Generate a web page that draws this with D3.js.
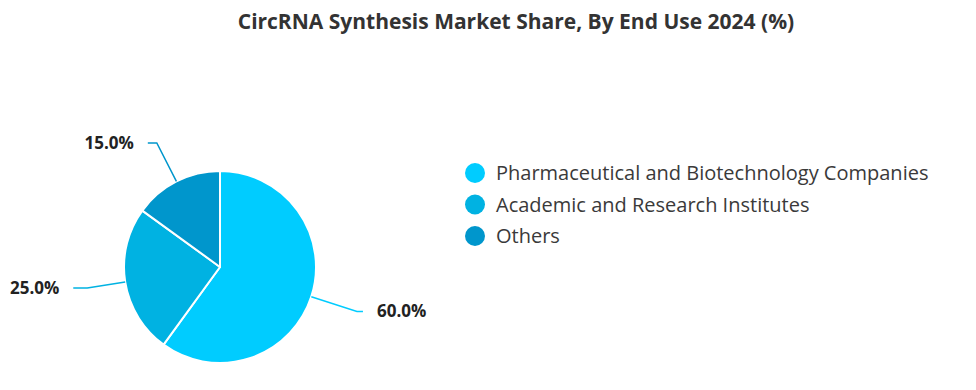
<!DOCTYPE html>
<html>
<head>
<meta charset="utf-8">
<script src="https://cdn.jsdelivr.net/npm/d3@7"></script>
<style>
  html, body { margin: 0; padding: 0; background: #ffffff; }
  svg { display: block; }
</style>
</head>
<body>
<svg id="chart" width="976" height="390"></svg>
<script>
const title = "CircRNA Synthesis Market Share, By End Use 2024 (%)";
const categories = ["Pharmaceutical and Biotechnology Companies", "Academic and Research Institutes", "Others"];
const values = [60.0, 25.0, 15.0];
const colors = ["#00CCFF", "#00B2E2", "#0096CC"];

const W = 976, H = 390;
const cx = 220, cy = 267, R = 96;
// leader line layout: elbow radius factor and horizontal run per slice
const elbow = [1.5, 1.4, 1.45];
const run = [6, 14, 9];

const svg = d3.select("#chart");
const font = "'Open Sans', 'Noto Sans', sans-serif";

svg.append("text")
  .attr("x", 516).attr("y", 29)
  .attr("text-anchor", "middle")
  .attr("font-family", font)
  .attr("font-weight", 700)
  .attr("font-size", 21)
  .attr("fill", "#333333")
  .text(title);

const data = categories.map((c, i) => ({ name: c, value: values[i], color: colors[i], i }));
const pie = d3.pie().value(d => d.value).sort(null);
const arcs = pie(data);
const arc = d3.arc().innerRadius(0).outerRadius(R);

const g = svg.append("g").attr("transform", `translate(${cx},${cy})`);
g.selectAll("path.slice").data(arcs).enter().append("path")
  .attr("class", "slice")
  .attr("d", arc)
  .attr("fill", d => d.data.color)
  .attr("stroke", "#ffffff")
  .attr("stroke-width", 2)
  .attr("stroke-linejoin", "round");

const fmt = d3.format(".1f");
arcs.forEach(d => {
  const a = (d.startAngle + d.endAngle) / 2;
  const sx = Math.sin(a), sy = -Math.cos(a);
  const p0 = [sx * R, sy * R];
  const p1 = [sx * R * elbow[d.index], sy * R * elbow[d.index]];
  const dir = sx >= 0 ? 1 : -1;
  const p2 = [p1[0] + dir * run[d.index], p1[1]];
  g.append("polyline")
    .attr("points", [p0, p1, p2].map(p => p.join(",")).join(" "))
    .attr("fill", "none")
    .attr("stroke", d.data.color)
    .attr("stroke-width", 1.5);
  g.append("text")
    .attr("x", p2[0] + dir * 14)
    .attr("y", p2[1])
    .attr("dy", "0.35em")
    .attr("text-anchor", dir > 0 ? "start" : "end")
    .attr("font-family", font)
    .attr("font-weight", 700)
    .attr("font-size", 17)
    .attr("fill", "#222222")
    .text(fmt(d.data.value) + "%");
});

const legend = svg.append("g").attr("transform", "translate(475,173)");
const items = legend.selectAll("g").data(data).enter().append("g")
  .attr("transform", (d, i) => `translate(0,${i * 31.5})`);
items.append("circle").attr("r", 10).attr("fill", d => d.color);
items.append("text")
  .attr("x", 21).attr("dy", "0.35em")
  .attr("font-family", font)
  .attr("font-size", 20)
  .attr("fill", "#3a3a3a")
  .text(d => d.name);
</script>
</body>
</html>
